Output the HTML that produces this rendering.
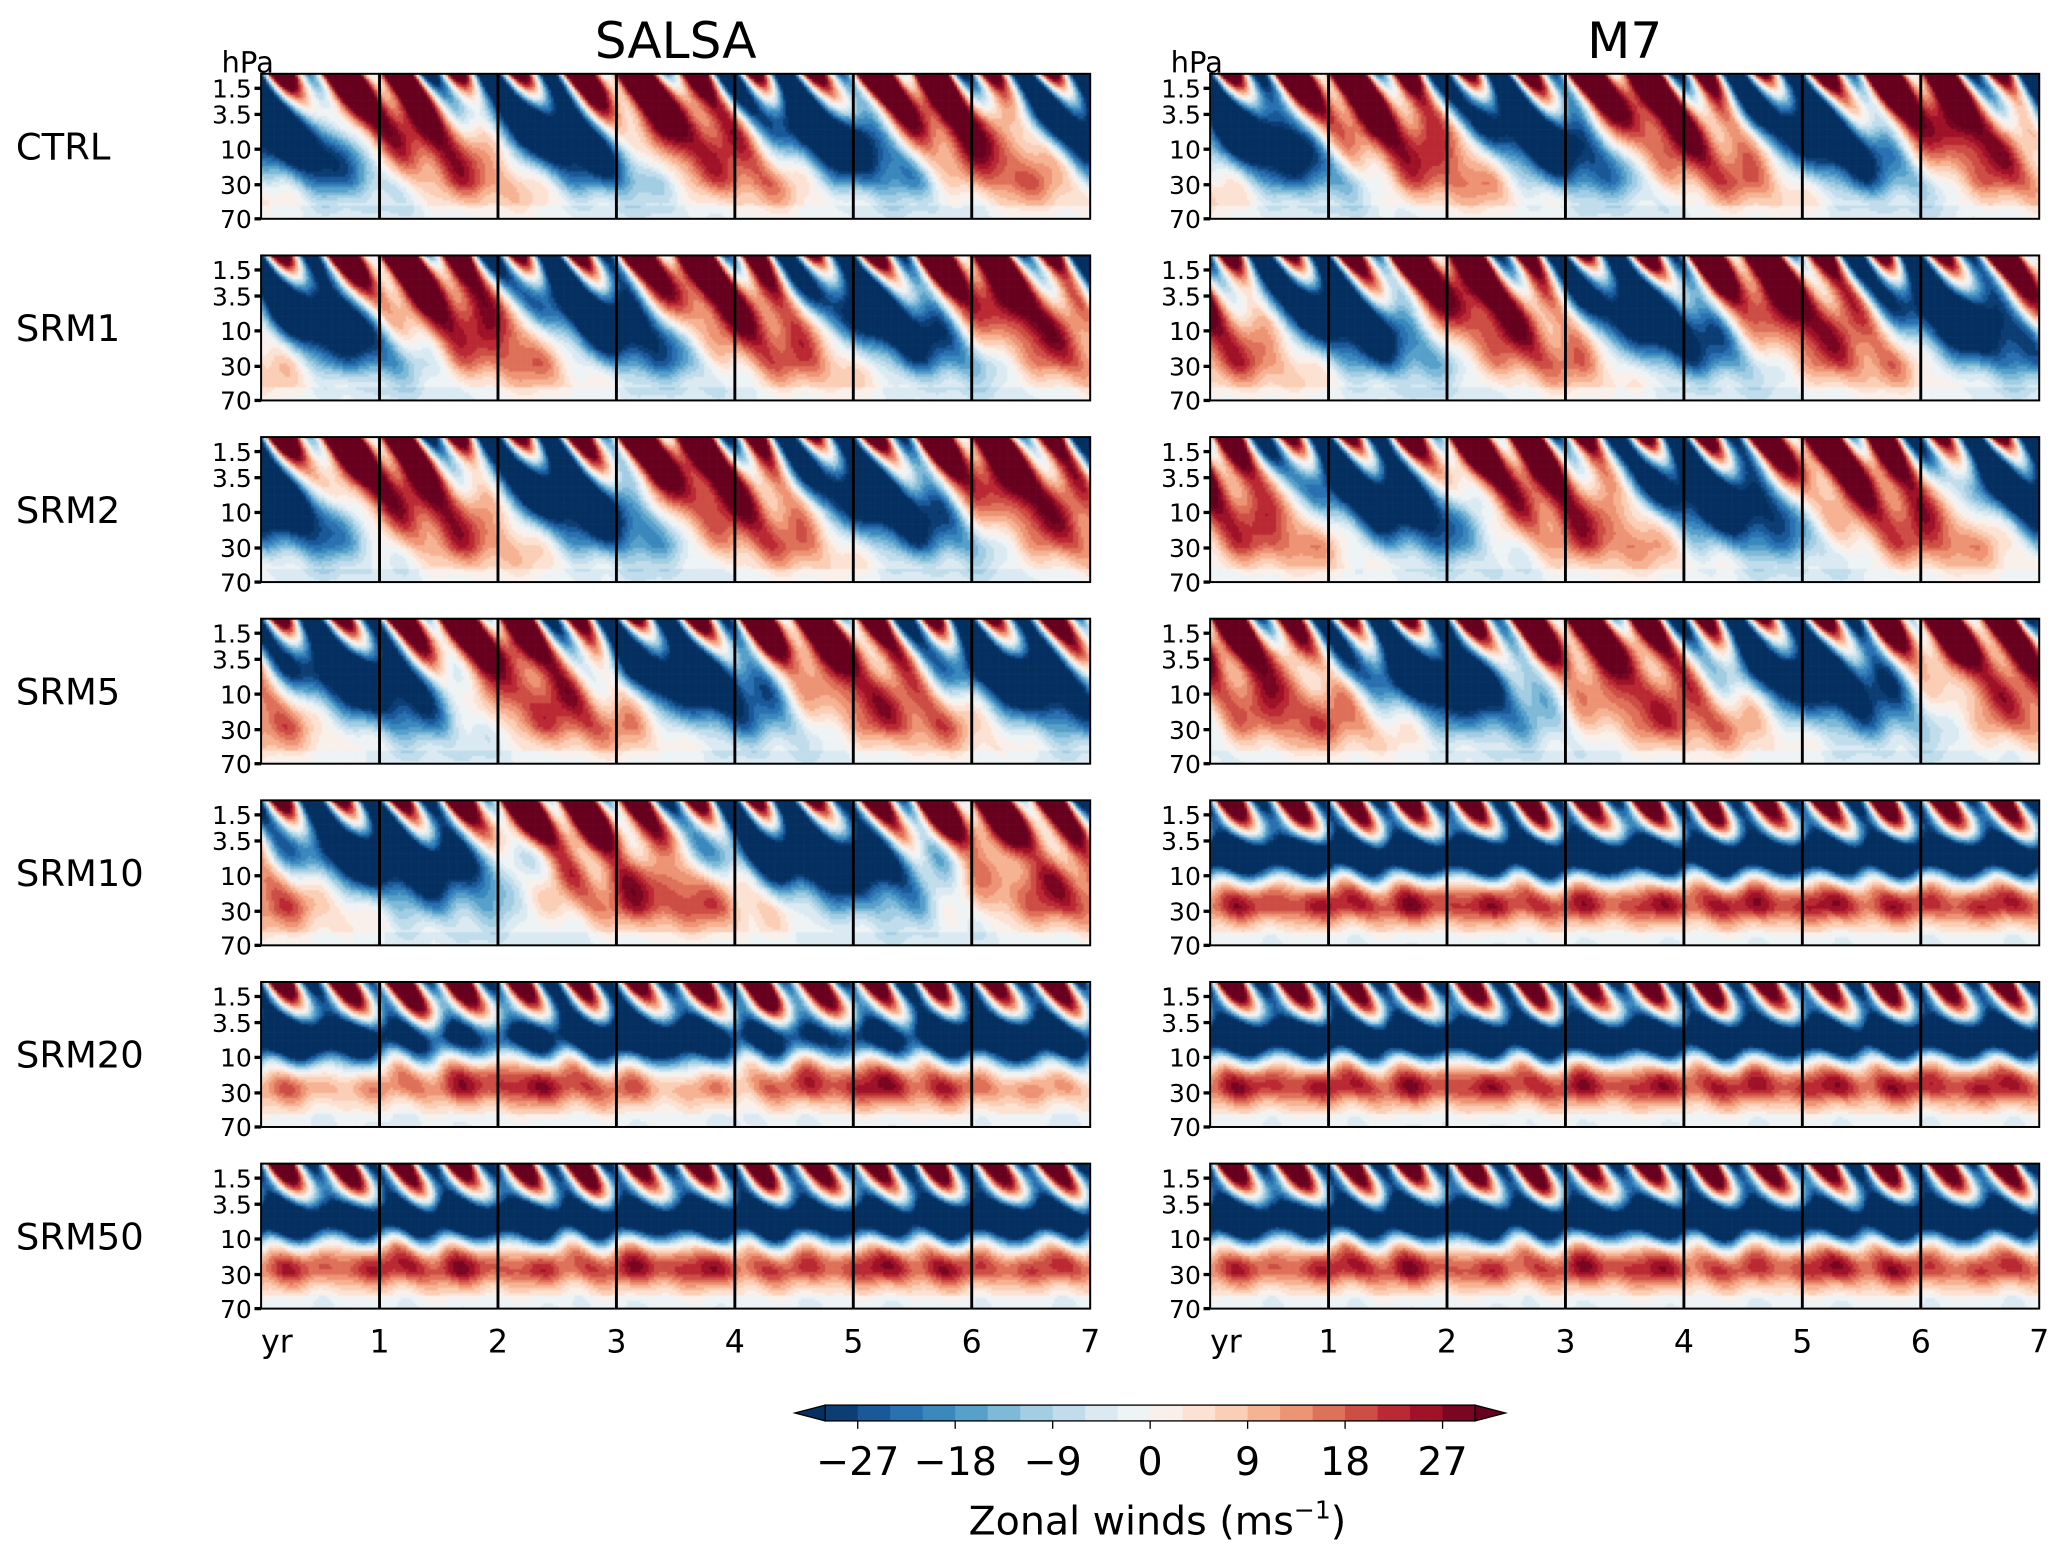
<!DOCTYPE html>
<html><head><meta charset="utf-8"><style>
html,body{margin:0;padding:0;background:#fff;}
#wrap{position:relative;width:2067px;height:1558px;overflow:hidden;}
canvas,svg{position:absolute;left:0;top:0;}
text{font-family:"DejaVu Sans","Liberation Sans",sans-serif;fill:#000;}
</style></head><body>
<div id="wrap">
<canvas id="cv" width="2067" height="1558"></canvas>
<svg id="sv" width="2067" height="1558" viewBox="0 0 1568 1182"></svg>
</div>
<script>
// ---- data ----
const rowNames = ["CTRL","SRM1","SRM2","SRM5","SRM10","SRM20","SRM50"];
const modelNames = ["SALSA","M7"];
const qboAmpSalsa = [1.0,1.0,1.0,0.95,0.9,0.3,0.1];
const qboAmpM7    = [1.0,1.0,0.95,0.9,0.05,0.0,0.1];
const qboPeriodSalsa = [2.3,2.4,2.6,2.8,3.6,3.0,2.0];
const qboPeriodM7    = [2.4,2.6,2.8,3.2,3.0,3.0,2.0];
const qboPhaseSalsa = [0.2,0.5,0.1,1.0,1.5,0.5,0.0];
const qboPhaseM7    = [0.4,1.2,1.6,2.2,0.0,0.0,0.0];
const steadySalsa = [0.0,0.0,0.0,0.1,0.2,0.8,0.95];
const steadyM7    = [0.0,0.0,0.05,0.1,1.0,1.0,0.95];
const pressureTicks = ["1.5","3.5","10","30","70"];
const yearTicks = ["yr","1","2","3","4","5","6","7"];
const cbarTicks = [-27,-18,-9,0,9,18,27];
const levelStep = 3, levelMax = 30;

// ---- layout ----
const S = 2067/1568;
const panelX = [198,918], panelW = 629, panelH = 110, row0 = 56, rowStep = 137.8;
const tickFrac = [0.1,0.28,0.52,0.765,1.0];
const anchors = ["#053061","#2166ac","#4393c3","#92c5de","#d1e5f0","#f7f7f7","#fddbc7","#f4a582","#d6604d","#b2182b","#67001f"];
function hex(c){return [parseInt(c.slice(1,3),16),parseInt(c.slice(3,5),16),parseInt(c.slice(5,7),16)];}
function cmap(f){f=Math.max(0,Math.min(1,f));const p=f*(anchors.length-1),i=Math.min(anchors.length-2,Math.floor(p)),r=p-i;const a=hex(anchors[i]),b=hex(anchors[i+1]);return `rgb(${a.map((v,k)=>Math.round(v+(b[k]-v)*r)).join(',')})`;}
const nLev = 2*levelMax/levelStep;
function levelColor(u){let k=Math.floor((u+levelMax)/levelStep);k=Math.max(-1,Math.min(nLev,k));return cmap((k+0.5)/nLev);}
const xScale=(p,t)=>panelX[p]+t/7*panelW;
const yScale=(r,z)=>row0+r*rowStep+z*panelH;

function wind(t,z,amp,per,ph,st){
  const s=Math.sin(2*Math.PI*(t-z*1.3-ph)/per);
  // westerly (red) phase weaker in lower levels, easterly (blue) strong mid-levels
  const env = s<0 ? 1.5*Math.exp(-Math.pow((z-0.4)/0.35,2))+0.2 : 1.3-0.9*z;
  const q=amp*s*env;
  const sao=(Math.sin(2*Math.PI*2*(t-0.8*z)-0.6)+0.2)*Math.exp(-z/0.22)*1.7;
  const stat=st*(-1.7*Math.exp(-Math.pow((z-0.38)/0.15,2))+0.75*Math.exp(-Math.pow((z-0.72)/0.17,2)))+st*0.25*Math.sin(2*Math.PI*2*t)*Math.exp(-Math.pow((z-0.5)/0.1,2));
  const wig=0.1*Math.sin(9*t+7*z)+0.08*Math.sin(17*t-11*z);
  let u=q+sao+stat+wig;
  if(z>0.75) u*= 1-(z-0.75)*3;
  return u*30 - (z>0.9?3:0);
}

const ctx=document.getElementById('cv').getContext('2d');
ctx.scale(S,S);
const dx=2,dz=2;
for(let p=0;p<2;p++){
  const amp=p?qboAmpM7:qboAmpSalsa, per=p?qboPeriodM7:qboPeriodSalsa, ph=p?qboPhaseM7:qboPhaseSalsa, st=p?steadyM7:steadySalsa;
  for(let r=0;r<rowNames.length;r++){
    for(let px=0;px<panelW;px+=dx){
      const t=(px+dx/2)/panelW*7;
      for(let pz=0;pz<panelH;pz+=dz){
        const z=(pz+dz/2)/panelH;
        ctx.fillStyle=levelColor(wind(t,z,amp[r],per[r],ph[r],st[r]));
        ctx.fillRect(panelX[p]+px,yScale(r,0)+pz,Math.min(dx+0.5,panelW-px),Math.min(dz+0.5,panelH-pz));
      }
    }
  }
}

const svg=document.getElementById('sv');
const NS="http://www.w3.org/2000/svg";
function mk(tag,attrs,txt){const e=document.createElementNS(NS,tag);for(const k in attrs)e.setAttribute(k,attrs[k]);if(txt!==undefined)e.textContent=txt;svg.appendChild(e);return e;}

for(let p=0;p<2;p++){
  let e=mk('text',{x:panelX[p]+panelW/2,y:44,'font-size':38,'text-anchor':'middle'},modelNames[p]);
  
  
  e=mk('text',{x:panelX[p]-30,y:55,'font-size':22},'hPa');
  
  
  for(let r=0;r<rowNames.length;r++){
    const y0=yScale(r,0);
    for(let y=1;y<7;y++){
      e=mk('line',{x1:xScale(p,y),x2:xScale(p,y),y1:y0,y2:y0+panelH,stroke:'#000','stroke-width':2.2});
      
      
    }
    e=mk('rect',{x:panelX[p],y:y0,width:panelW,height:panelH,fill:'none',stroke:'#000','stroke-width':1.5});
    
    
    pressureTicks.forEach((lab,i)=>{
      const y=yScale(r,tickFrac[i]);
      e=mk('line',{x1:panelX[p]-5,x2:panelX[p],y1:y,y2:y,stroke:'#000','stroke-width':2.5});
      
      
      e=mk('text',{x:panelX[p]-7,y:y+7,'font-size':19,'text-anchor':'end'},lab);
      
      
    });
    if(p===0){
      e=mk('text',{x:12,y:y0+panelH/2+10,'font-size':28},rowNames[r]);
      
      
    }
  }
  yearTicks.forEach((lab,i)=>{
    const x=i===0?xScale(p,0)+12:xScale(p,i);
    e=mk('text',{x:x,y:1026,'font-size':24,'text-anchor':'middle'},lab);
    
    
  });
}

// colorbar
const cbL=626,cbR=1119,cbY=1066,cbH=12;
const cbX=v=>cbL+(v+levelMax)/(2*levelMax)*(cbR-cbL);
for(let k=0;k<nLev;k++){
  const v=-levelMax+k*levelStep;
  let e=mk('rect',{x:cbX(v),y:cbY,width:cbX(v+levelStep)-cbX(v)+0.5,height:cbH,fill:cmap((k+0.5)/nLev)});
  
  
}
let e=mk('polygon',{points:`${cbL},${cbY} 603,${cbY+cbH/2} ${cbL},${cbY+cbH}`,fill:cmap(0),stroke:'#000','stroke-width':1});


e=mk('polygon',{points:`${cbR},${cbY} 1142,${cbY+cbH/2} ${cbR},${cbY+cbH}`,fill:cmap(1),stroke:'#000','stroke-width':1});


e=mk('rect',{x:cbL,y:cbY,width:cbR-cbL,height:cbH,fill:'none',stroke:'#000','stroke-width':1});


cbarTicks.forEach(v=>{
  let t=mk('line',{x1:cbX(v),x2:cbX(v),y1:cbY+cbH,y2:cbY+cbH+6,stroke:'#000','stroke-width':1});
  
  
  t=mk('text',{x:cbX(v),y:1119,'font-size':30,'text-anchor':'middle'},(v<0?'\u2212'+(-v):String(v)));
  
  
});
e=mk('text',{x:878,y:1164,'font-size':30,'text-anchor':'middle'});


e.innerHTML='Zonal winds (ms<tspan dy="-12" font-size="19">\u22121</tspan><tspan dy="12">)</tspan>';
</script>
</body></html>
